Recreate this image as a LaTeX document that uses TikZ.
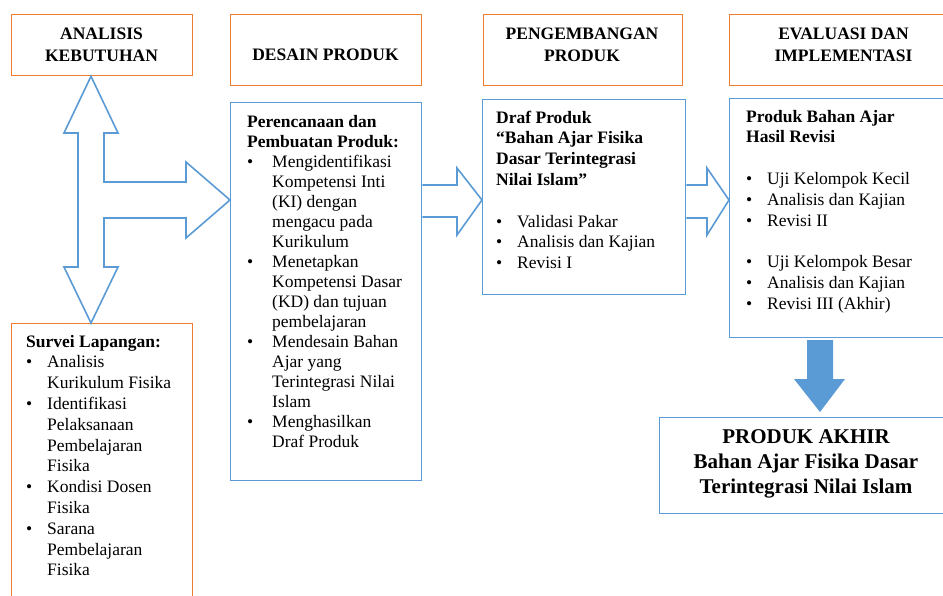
\documentclass[tikz,border=0pt]{standalone}
\usepackage{fontspec}
\setmainfont{Liberation Serif}
\usetikzlibrary{positioning}
\definecolor{orangeline}{HTML}{ED7D31}
\definecolor{blueline}{HTML}{5B9BD5}

\begin{document}
\begin{tikzpicture}[x=1pt,y=-1pt,
	obox/.style={draw=orangeline,line width=1.3pt,anchor=north west,inner sep=0pt},
	bbox/.style={draw=blueline,line width=1.3pt,anchor=north west,inner sep=0pt},
	headtxt/.style={anchor=north,inner sep=0pt,font=\fontsize{17.5}{22}\selectfont\bfseries},
	bodytxt/.style={anchor=north west,inner sep=0pt,font=\fontsize{17.5}{20.8}\selectfont},
	hollow/.style={draw=blueline,line width=1.6pt,fill=white,line join=miter},
	fullarrow/.style={fill=blueline}]

	\useasboundingbox (0,0) rectangle (943,595);
	\clip (0,0) rectangle (943,595);

	% header boxes
	\node[obox,minimum width=181pt,minimum height=61pt] (ak) at (11,14) {};
	\node[obox,minimum width=191pt,minimum height=71pt] (dp) at (230,14) {};
	\node[obox,minimum width=199pt,minimum height=71pt] (pp) at (483,14) {};
	\node[obox,minimum width=229pt,minimum height=71pt] (ei) at (729,14) {};

	\node[headtxt] (akT) at (101.5,24) {\begin{tabular}{@{}c@{}}ANALISIS\\KEBUTUHAN\end{tabular}};
	\node[headtxt] (dpT) at (325.5,44.6) {\begin{tabular}{@{}c@{}}DESAIN PRODUK\end{tabular}};
	\node[headtxt] (ppT) at (582,24) {\begin{tabular}{@{}c@{}}PENGEMBANGAN\\PRODUK\end{tabular}};
	\node[headtxt] (eiT) at (843.5,24) {\begin{tabular}{@{}c@{}}EVALUASI DAN\\IMPLEMENTASI\end{tabular}};

	% content boxes
	\node[obox,minimum width=181pt,minimum height=297pt] (survey) at (11,323) {};
	\node[bbox,minimum width=191pt,minimum height=378pt] (desc) at (230,102) {};
	\node[bbox,minimum width=203pt,minimum height=195pt] (draf) at (482,99) {};
	\node[bbox,minimum width=229pt,minimum height=239pt] (revisi) at (729,98) {};
	\node[bbox,minimum width=294pt,minimum height=96pt] (akhir) at (659,417) {};

	\node[bodytxt] (surveyT) at (26,332.4) {\begin{tabular}{@{}p{21pt}@{}l@{}}
		\multicolumn{2}{@{}l@{}}{\textbf{Survei Lapangan:}}\\
		\textbullet & Analisis\\
		 & Kurikulum Fisika\\
		\textbullet & Identifikasi\\
		 & Pelaksanaan\\
		 & Pembelajaran\\
		 & Fisika\\
		\textbullet & Kondisi Dosen\\
		 & Fisika\\
		\textbullet & Sarana\\
		 & Pembelajaran\\
		 & Fisika
	\end{tabular}};

	\node[bodytxt,font=\fontsize{17.5}{20}\selectfont] (descT) at (247,113) {\begin{tabular}{@{}p{25pt}@{}l@{}}
		\multicolumn{2}{@{}l@{}}{\textbf{Perencanaan dan}}\\
		\multicolumn{2}{@{}l@{}}{\textbf{Pembuatan Produk:}}\\
		\textbullet & Mengidentifikasi\\
		 & Kompetensi Inti\\
		 & (KI) dengan\\
		 & mengacu pada\\
		 & Kurikulum\\
		\textbullet & Menetapkan\\
		 & Kompetensi Dasar\\
		 & (KD) dan tujuan\\
		 & pembelajaran\\
		\textbullet & Mendesain Bahan\\
		 & Ajar yang\\
		 & Terintegrasi Nilai\\
		 & Islam\\
		\textbullet & Menghasilkan\\
		 & Draf Produk
	\end{tabular}};

	\node[bodytxt] (drafT) at (496,108.4) {\begin{tabular}{@{}p{21pt}@{}l@{}}
		\multicolumn{2}{@{}l@{}}{\textbf{Draf Produk}}\\
		\multicolumn{2}{@{}l@{}}{\textbf{``Bahan Ajar Fisika}}\\
		\multicolumn{2}{@{}l@{}}{\textbf{Dasar Terintegrasi}}\\
		\multicolumn{2}{@{}l@{}}{\textbf{Nilai Islam''}}\\
		 & \\
		\textbullet & Validasi Pakar\\
		\textbullet & Analisis dan Kajian\\
		\textbullet & Revisi I
	\end{tabular}};

	\node[bodytxt] (revisiT) at (746,107.4) {\begin{tabular}{@{}p{21pt}@{}l@{}}
		\multicolumn{2}{@{}l@{}}{\textbf{Produk Bahan Ajar}}\\
		\multicolumn{2}{@{}l@{}}{\textbf{Hasil Revisi}}\\
		 & \\
		\textbullet & Uji Kelompok Kecil\\
		\textbullet & Analisis dan Kajian\\
		\textbullet & Revisi II\\
		 & \\
		\textbullet & Uji Kelompok Besar\\
		\textbullet & Analisis dan Kajian\\
		\textbullet & Revisi III (Akhir)
	\end{tabular}};

	\node[anchor=north,inner sep=0pt,font=\fontsize{21}{25}\selectfont\bfseries] (akhirT) at (806,425.5) {\begin{tabular}{@{}c@{}}PRODUK AKHIR\\Bahan Ajar Fisika Dasar\\Terintegrasi Nilai Islam\end{tabular}};

	% block arrows
	\draw[hollow] (ak.south -| 91,0) -- (118,133) -- (104,133) -- (104,182) -- (186,182) -- (186,162)
		-- (desc.west |- 0,200) -- (186,238) -- (186,218) -- (104,218) -- (104,267) -- (118,267)
		-- (survey.north -| 91,0) -- (64,267) -- (78,267) -- (78,133) -- (64,133) -- cycle;
	\draw[hollow] (desc.east |- 0,185) -- (457,185) -- (457,168) -- (draf.west |- 0,200)
		-- (457,235) -- (457,217) -- (desc.east |- 0,217);
	\draw[hollow] (draf.east |- 0,185) -- (707,185) -- (707,168) -- (revisi.west |- 0,200)
		-- (707,235) -- (707,218) -- (draf.east |- 0,218);
	\fill[fullarrow] (807,340) -- (833,340) -- (833,379) -- (845,379) -- (820,412) -- (794,379) -- (807,379) -- cycle;
\end{tikzpicture}
\end{document}
